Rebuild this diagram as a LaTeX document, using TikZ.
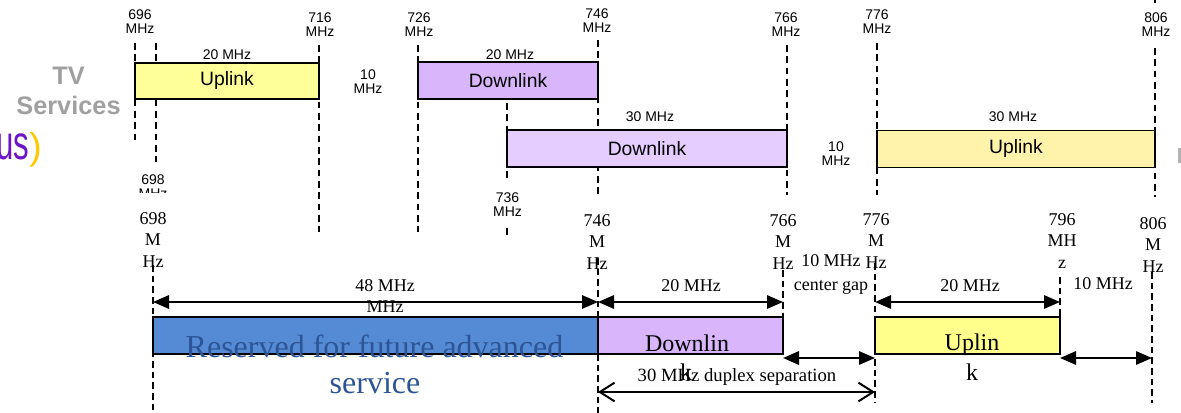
\documentclass[tikz,border=0pt]{standalone}
\usepackage{fontspec}
\setmainfont{Liberation Serif}
\newfontfamily\arialfont{Liberation Sans}
\usetikzlibrary{arrows.meta}

\definecolor{upyellow}{RGB}{255,255,153}
\definecolor{upyellowb}{RGB}{255,243,172}
\definecolor{newyellow}{RGB}{255,255,140}
\definecolor{dnpurple}{RGB}{217,181,252}
\definecolor{dnpurpleb}{RGB}{230,205,255}
\definecolor{resblue}{RGB}{85,139,213}
\definecolor{restext}{RGB}{45,85,150}
\definecolor{tvgray}{RGB}{160,160,160}
\definecolor{uspurple}{RGB}{110,20,200}
\definecolor{usyellow}{RGB}{255,200,0}

\tikzset{
  smalllab/.style={font=\arialfont\fontsize{10.5}{10.5}\selectfont, align=center, inner sep=0pt},
  boxlab/.style={font=\arialfont\fontsize{14.5}{16}\selectfont},
  band/.style={draw, line width=1.1pt, inner sep=0pt},
  newband/.style={draw, line width=1.5pt, inner sep=0pt, minimum height=27.75pt},
  toptick/.style={line width=2.2pt, dash pattern=on 5pt off 3.5pt},
  bottick/.style={line width=1.1pt, dash pattern=on 5pt off 3pt},
  freqlab/.style={font=\fontsize{13.5}{16}\selectfont, align=center, inner sep=0pt},
  dimarrow/.style={line width=1.5pt, {Triangle[length=12pt,width=10pt]}-{Triangle[length=12pt,width=10pt]}},
  duparrow/.style={line width=1.5pt, {Straight Barb[length=11pt,width=14pt]}-{Straight Barb[length=11pt,width=14pt]}},
}

\begin{document}
\begin{tikzpicture}[x=0.75pt, y=-0.75pt]
\useasboundingbox (0,0) rectangle (1181,413);
\fill[white] (0,0) rectangle (1181,413);

\foreach \x/\ya/\yb in {135/43/142, 156/43/162, 319/45/232, 418/45/232, 507/103/180, 507/228/237,
  598/40/195, 787/45/195, 877/43/195, 1155/48/197, 1155/-4/3}
  {\draw[toptick] (\x,\ya) -- (\x,\yb);}

\node (ul1) [band, boxlab, fill=upyellow, minimum width=138pt, minimum height=27pt] at (227,81) {Uplink};
\node (dl1) [band, boxlab, fill=dnpurple, minimum width=135pt, minimum height=27.5pt] at (508,80.5) {Downlink};
\node (dl2) [band, boxlab, fill=dnpurpleb, minimum width=210pt, minimum height=27.5pt] at (647,148.5) {Downlink};
\node (ul2) [band, boxlab, fill=upyellowb, minimum width=208.5pt, minimum height=28pt] at (1016,149) {Uplink};

\node (w1) [smalllab] at (227,55) {20 MHz};
\node (w2) [smalllab] at (510,55) {20 MHz};
\node (w3) [smalllab] at (650,117) {30 MHz};
\node (w4) [smalllab] at (1013,117) {30 MHz};
\node (gap1) [smalllab] at (368,82) {10\\MHz};
\node (gap2) [smalllab] at (836,154) {10\\MHz};

\foreach \f/\x/\y in {696/140/22, 716/320/25, 726/419/25, 746/597/21, 766/786/25, 776/877/21.5, 806/1156/25}
  {\node (t\f) [smalllab] at (\x,\y) {\f\\MHz};}
\node (t736) [smalllab] at (507.5,204.5) {736\\MHz};
\begin{scope}
\clip (120,165) rectangle (200,193);
\node (t698) [smalllab] at (153,187) {698\\MHz};
\end{scope}

\node (tvserv) [align=center, inner sep=0pt, text=tvgray, font=\arialfont\bfseries\fontsize{19}{22.5}\selectfont] at (68.5,91) {TV\\Services};
\node (usmark) [anchor=base east, inner sep=0pt, font=\arialfont] at (42,160)
  {\textcolor{uspurple}{\scalebox{0.65}[1]{\fontsize{36}{36}\selectfont us}}\textcolor{usyellow}{\fontsize{28}{28}\selectfont )}};
\fill[tvgray!80] (1178,148) rectangle (1182,163);

\foreach \x/\ya/\yb in {153/265/413, 598/258/413, 783/270/317, 875/263/403, 1060/277/316, 1152/272/403}
  {\draw[bottick] (\x,\ya) -- (\x,\yb);}

\node (res) [newband, fill=resblue, minimum width=333.75pt] at (375.5,335.5) {};
\node (dl3) [newband, fill=dnpurple, minimum width=138.75pt] at (690.5,335.5) {};
\node (ul3) [newband, fill=newyellow, minimum width=138.75pt] at (967.5,335.5) {};

\foreach \f/\x/\y in {698/153/240, 746/597/242, 766/783/242, 776/876/241, 806/1153/245}
  {\node (b\f) [freqlab] at (\x,\y) {\f\\M\\Hz};}
\node (b796) [freqlab] at (1062,241) {796\\MH\\z};

\node (lab48b) [freqlab] at (385,307) {MHz};
\node (lab48) [freqlab] at (385,286) {48 MHz};
\node (lab20a) [freqlab] at (691,286) {20 MHz};
\node (labgap) [freqlab, font=\fontsize{13.5}{18}\selectfont] at (831,274) {10 MHz\\center gap};
\node (lab20b) [freqlab] at (970,286) {20 MHz};
\node (lab10) [freqlab] at (1103,284) {10 MHz};
\node (labdup) [freqlab, font=\fontsize{14}{16}\selectfont] at (737,377) {30 MHz duplex separation};

\node (restxt1) [anchor=base, inner sep=0pt, text=restext, font=\fontsize{24}{28}\selectfont] at (374.5,357) {Reserved for future advanced};
\node (restxt2) [anchor=base, inner sep=0pt, text=restext, font=\fontsize{24}{28}\selectfont] at (375,393) {service};
\node (dltxt) [anchor=base, inner sep=0pt, font=\fontsize{18}{20}\selectfont] at (687,351) {Downlin};
\node (dltxtk) [anchor=base, inner sep=0pt, font=\fontsize{18}{20}\selectfont] at (686,380) {k};
\node (ultxt) [anchor=base, inner sep=0pt, font=\fontsize{18}{20}\selectfont] at (972,350) {Uplin};
\node (ultxtk) [anchor=base, inner sep=0pt, font=\fontsize{18}{20}\selectfont] at (972,380) {k};

\foreach \f/\x in {698/153, 746/598, 766/783, 776/875, 796/1060, 806/1152} {
  \coordinate (r\f) at (\x,302);
  \coordinate (g\f) at (\x,358);
  \coordinate (d\f) at (\x,392);
}
\draw[dimarrow] (r698) -- (r746);
\draw[dimarrow] (r746) -- (r766);
\draw[dimarrow] (r776) -- (r796);
\draw[dimarrow] (g766) -- (g776);
\draw[dimarrow] (g796) -- (g806);
\draw[duparrow] (d746) -- (d776);

\end{tikzpicture}
\end{document}
